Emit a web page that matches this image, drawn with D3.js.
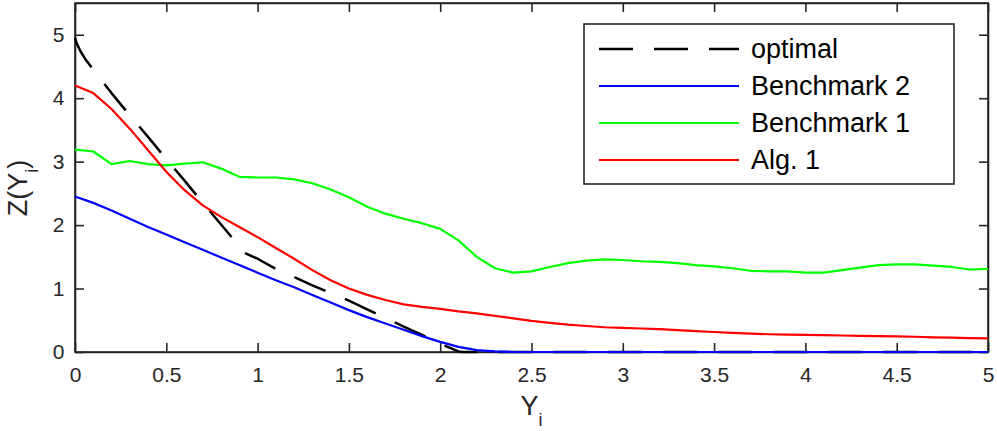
<!DOCTYPE html>
<html>
<head>
<meta charset="utf-8">
<script src="https://cdn.jsdelivr.net/npm/d3@7"></script>
<style>
  html, body { margin: 0; padding: 0; background: #fff; }
  svg { display: block; font-family: "Liberation Sans", Arial, Helvetica, sans-serif; }
</style>
</head>
<body>
<svg id="chart" width="997" height="431"></svg>
<script>
// ---- data ----
const xGrid = [0,0.1,0.2,0.3,0.4,0.5,0.6,0.7,0.8,0.9,
               1,1.1,1.2,1.3,1.4,1.5,1.6,1.7,1.8,1.9,
               2,2.1,2.2,2.3,2.4,2.5,2.6,2.7,2.8,2.9,
               3,3.1,3.2,3.3,3.4,3.5,3.6,3.7,3.8,3.9,
               4,4.1,4.2,4.3,4.4,4.5,4.6,4.7,4.8,4.9,5];

const optimalX = [0,0.01,0.03,0.06,0.1,0.2,0.3,0.4,0.5,0.6,0.7,0.8,0.93,1,1.1,1.2,1.3,1.4,1.5,1.6,1.7,1.8,1.9,2,2.1,2.12,5];
const optimalY = [4.95,4.86,4.74,4.60,4.45,4.08,3.73,3.39,3.04,2.70,2.35,2.01,1.56,1.47,1.31,1.18,1.05,0.93,0.81,0.67,0.54,0.40,0.27,0.13,0.01,0,0];

const benchmark2 = [2.45,2.35,2.23,2.10,1.97,1.85,1.73,1.61,1.49,1.37,
                    1.25,1.13,1.02,0.90,0.78,0.66,0.55,0.45,0.35,0.25,
                    0.16,0.08,0.03,0.01,0,0,0,0,0,0,
                    0,0,0,0,0,0,0,0,0,0,
                    0,0,0,0,0,0,0,0,0,0,0];

const benchmark1 = [3.19,3.16,2.96,3.01,2.96,2.94,2.97,2.99,2.89,2.76,
                    2.75,2.75,2.72,2.66,2.56,2.44,2.29,2.18,2.10,2.03,
                    1.94,1.76,1.50,1.32,1.25,1.27,1.34,1.40,1.44,1.46,
                    1.45,1.43,1.42,1.40,1.37,1.35,1.32,1.28,1.27,1.27,
                    1.25,1.25,1.29,1.33,1.37,1.38,1.38,1.36,1.34,1.30,1.31];

const alg1 = [4.20,4.08,3.83,3.52,3.18,2.84,2.55,2.31,2.13,1.97,
              1.81,1.64,1.47,1.29,1.13,1.00,0.90,0.82,0.75,0.71,
              0.68,0.64,0.61,0.57,0.53,0.49,0.46,0.43,0.41,0.39,
              0.38,0.37,0.36,0.345,0.33,0.315,0.30,0.29,0.28,0.275,
              0.27,0.265,0.26,0.255,0.25,0.245,0.24,0.23,0.225,0.22,0.215];

const xTicks = [0,0.5,1,1.5,2,2.5,3,3.5,4,4.5,5];
const yTicks = [0,1,2,3,4,5];
const legendLabels = ["optimal","Benchmark 2","Benchmark 1","Alg. 1"];

// ---- layout ----
const L = 75, R = 988, T = 3, B = 352;
const axisColor = "#262626";
const svg = d3.select("#chart");

const x = d3.scaleLinear().domain([0,5]).range([L,R]);
const y = d3.scaleLinear().domain([0,5.5]).range([B,T]);

svg.append("defs").append("clipPath").attr("id","clip")
  .append("rect").attr("x",L-2).attr("y",T-2).attr("width",R-L+4).attr("height",B-T+4);

const series = [
  {label: legendLabels[0], xs: optimalX, ys: optimalY, color: "#000000", width: 2.5, dash: "34,21"},
  {label: legendLabels[1], xs: xGrid, ys: benchmark2, color: "#0000ff", width: 2.2, dash: null},
  {label: legendLabels[2], xs: xGrid, ys: benchmark1, color: "#00ff00", width: 2.2, dash: null},
  {label: legendLabels[3], xs: xGrid, ys: alg1, color: "#ff0000", width: 2.2, dash: null}
];

// ---- axes ----
function styleAxis(g) {
  g.select(".domain").attr("stroke", axisColor).attr("stroke-width", 1.6);
  g.selectAll(".tick line").attr("stroke", axisColor).attr("stroke-width", 1.6);
  g.selectAll(".tick text").attr("fill", axisColor).attr("font-size", 21)
    .attr("font-family", '"Liberation Sans", Arial, sans-serif');
}
const fmt = d => String(d);

svg.append("g").attr("transform",`translate(0,${B})`)
  .call(d3.axisBottom(x).tickValues(xTicks).tickFormat(fmt).tickSizeInner(-9).tickSizeOuter(0).tickPadding(15))
  .call(styleAxis);
svg.append("g").attr("transform",`translate(0,${T})`)
  .call(d3.axisTop(x).tickValues(xTicks).tickFormat("").tickSizeInner(-9).tickSizeOuter(0))
  .call(styleAxis);
svg.append("g").attr("transform",`translate(${L},0)`)
  .call(d3.axisLeft(y).tickValues(yTicks).tickFormat(fmt).tickSizeInner(-9).tickSizeOuter(0).tickPadding(10.5))
  .call(styleAxis);
svg.append("g").attr("transform",`translate(${R},0)`)
  .call(d3.axisRight(y).tickValues(yTicks).tickFormat("").tickSizeInner(-9).tickSizeOuter(0))
  .call(styleAxis);
svg.append("rect").attr("x",L).attr("y",T).attr("width",R-L).attr("height",B-T)
  .attr("fill","none").attr("stroke",axisColor).attr("stroke-width",1.6);

// ---- data lines (drawn over the axes, as in the reference) ----
const line = d3.line().x(d => x(d[0])).y(d => y(d[1]));
const plot = svg.append("g").attr("clip-path","url(#clip)");
series.forEach(s => {
  const pts = s.xs.map((v,i) => [v, s.ys[i]]);
  plot.append("path").datum(pts)
    .attr("d", line)
    .attr("fill","none")
    .attr("stroke", s.color)
    .attr("stroke-width", s.width)
    .attr("stroke-linejoin","round")
    .attr("stroke-dasharray", s.dash);
});

// ---- axis labels ----
const xl = svg.append("text").attr("x", (L+R)/2).attr("y", 415)
  .attr("text-anchor","middle").attr("fill", axisColor).attr("font-size", 27);
xl.append("tspan").text("Y");
xl.append("tspan").attr("font-size", 18).attr("dy", 11).text("i");

const yl = svg.append("text").attr("transform","translate(27,188) rotate(-90)")
  .attr("text-anchor","middle").attr("fill", axisColor).attr("font-size", 27);
yl.append("tspan").text("Z(Y");
yl.append("tspan").attr("font-size", 18).attr("dy", 11).text("i");
yl.append("tspan").attr("dy", -11).text(")");

// ---- legend ----
const lg = svg.append("g");
lg.append("rect").attr("x",584).attr("y",24).attr("width",370).attr("height",160)
  .attr("fill","#fff").attr("stroke",axisColor).attr("stroke-width",1.6);
const rowY = [49, 86, 123, 160];
series.forEach((s,i) => {
  lg.append("line").attr("x1",599).attr("x2",739).attr("y1",rowY[i]).attr("y2",rowY[i])
    .attr("stroke", s.color).attr("stroke-width", s.width).attr("stroke-dasharray", s.dash);
  lg.append("text").attr("x",751).attr("y",rowY[i]).attr("dy","0.35em")
    .attr("font-size",27).attr("fill","#000").text(s.label);
});
</script>
</body>
</html>
